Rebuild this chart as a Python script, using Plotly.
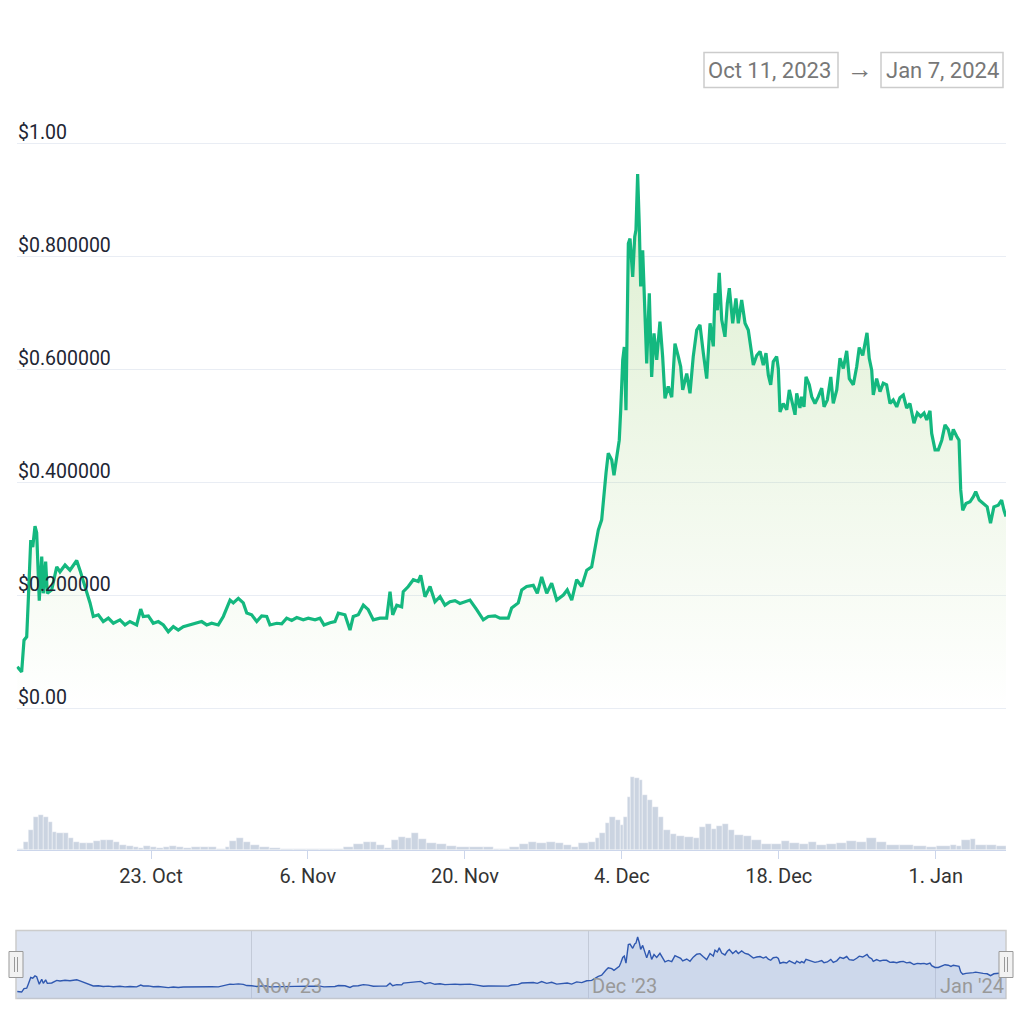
import pandas as pd
import plotly.graph_objects as go

# ---------------- data ----------------
START = pd.Timestamp("2023-10-11 00:00")

price_days = [0.07, 0.46, 0.67, 0.91, 1.05, 1.27, 1.45, 1.65, 1.80, 2.03, 2.25, 2.39, 2.60, 2.75, 3.14, 3.59, 3.88, 4.33, 4.77, 5.37,
              5.66, 6.11, 6.56, 6.85, 7.30, 7.74, 8.19, 8.64, 9.23, 9.68, 10.12, 10.72, 11.08, 11.31, 11.76, 12.20, 12.65, 13.10, 13.54, 13.99,
              14.43, 14.88, 15.48, 16.08, 16.52, 16.97, 17.41, 18.00, 18.45, 19.05, 19.34, 19.79, 20.23, 20.54, 20.98, 21.43, 21.87, 22.32, 22.61, 23.21,
              23.66, 24.10, 24.55, 25.00, 25.58, 26.03, 26.63, 27.07, 27.43, 27.97, 28.41, 28.71, 29.30, 29.75, 30.04, 30.49, 30.94, 31.38, 31.83, 32.43,
              33.02, 33.32, 33.56, 33.92, 34.36, 34.50, 34.95, 35.40, 35.84, 36.06, 36.44, 36.89, 37.33, 37.78, 38.22, 38.67, 39.12, 39.56, 40.01, 40.45,
              41.05, 41.64, 42.09, 42.69, 43.13, 43.87, 44.17, 44.76, 45.07, 45.51, 46.10, 46.46, 46.85, 47.30, 47.74, 48.19, 48.78, 49.13, 49.53, 49.97,
              50.42, 50.87, 51.31, 51.61, 51.90, 52.20, 52.35, 52.59, 52.79, 53.10, 53.30, 53.54, 53.77, 53.90, 54.08, 54.22, 54.37, 54.58, 54.73, 54.97,
              55.15, 55.26, 55.41, 55.56, 55.68, 55.86, 56.07, 56.22, 56.45, 56.66, 56.87, 57.11, 57.40, 57.64, 57.85, 58.14, 58.45, 58.74, 59.04, 59.25,
              59.43, 59.79, 60.08, 60.37, 60.68, 60.97, 61.27, 61.57, 61.87, 62.16, 62.31, 62.52, 62.69, 62.91, 63.20, 63.41, 63.59, 63.89, 64.18, 64.39,
              64.69, 64.99, 65.28, 65.43, 65.73, 66.03, 66.33, 66.62, 66.86, 67.07, 67.28, 67.51, 67.81, 67.96, 68.11, 68.40, 68.71, 68.94, 69.15, 69.45,
              69.60, 69.89, 70.04, 70.25, 70.43, 70.72, 70.94, 71.23, 71.53, 71.83, 72.04, 72.33, 72.64, 72.86, 73.17, 73.46, 73.76, 74.06, 74.29, 74.65,
              74.95, 75.18, 75.49, 75.69, 75.87, 76.07, 76.29, 76.43, 76.73, 77.03, 77.32, 77.62, 77.92, 78.21, 78.52, 78.81, 79.11, 79.41, 79.70, 80.06,
              80.36, 80.66, 80.96, 81.20, 81.49, 81.64, 81.94, 82.23, 82.54, 82.83, 83.12, 83.36, 83.57, 83.87, 84.08, 84.23, 84.41, 84.70, 85.06, 85.36,
              85.57, 85.88, 86.23, 86.59, 86.89, 87.19, 87.58, 87.88, 88.09, 88.27]

price_usd = [0.073, 0.064, 0.120, 0.126, 0.190, 0.297, 0.285, 0.322, 0.310, 0.190, 0.268, 0.203, 0.259, 0.203, 0.209, 0.250, 0.241, 0.253, 0.244, 0.261,
             0.244, 0.215, 0.186, 0.162, 0.165, 0.153, 0.159, 0.150, 0.156, 0.147, 0.153, 0.147, 0.175, 0.162, 0.163, 0.150, 0.153, 0.147, 0.135, 0.144,
             0.138, 0.144, 0.147, 0.150, 0.153, 0.147, 0.150, 0.147, 0.162, 0.191, 0.186, 0.194, 0.186, 0.168, 0.165, 0.153, 0.163, 0.162, 0.147, 0.150,
             0.149, 0.159, 0.155, 0.160, 0.156, 0.159, 0.156, 0.159, 0.147, 0.151, 0.153, 0.168, 0.165, 0.138, 0.162, 0.165, 0.182, 0.174, 0.156, 0.159,
             0.159, 0.206, 0.165, 0.182, 0.179, 0.206, 0.215, 0.227, 0.224, 0.235, 0.197, 0.215, 0.188, 0.197, 0.182, 0.188, 0.190, 0.185, 0.188, 0.191,
             0.174, 0.156, 0.162, 0.163, 0.159, 0.159, 0.177, 0.186, 0.209, 0.215, 0.217, 0.203, 0.232, 0.203, 0.221, 0.191, 0.200, 0.209, 0.191, 0.227,
             0.215, 0.244, 0.250, 0.283, 0.315, 0.333, 0.372, 0.416, 0.451, 0.439, 0.412, 0.445, 0.474, 0.527, 0.616, 0.639, 0.527, 0.822, 0.831, 0.763,
             0.834, 0.846, 0.945, 0.852, 0.746, 0.810, 0.687, 0.610, 0.734, 0.586, 0.663, 0.616, 0.684, 0.622, 0.548, 0.569, 0.550, 0.645, 0.622, 0.604,
             0.563, 0.592, 0.557, 0.622, 0.669, 0.678, 0.628, 0.583, 0.681, 0.640, 0.734, 0.704, 0.770, 0.687, 0.657, 0.716, 0.743, 0.681, 0.725, 0.681,
             0.722, 0.681, 0.669, 0.645, 0.607, 0.624, 0.631, 0.607, 0.628, 0.589, 0.572, 0.613, 0.622, 0.600, 0.524, 0.539, 0.528, 0.563, 0.547, 0.519,
             0.557, 0.531, 0.551, 0.533, 0.586, 0.572, 0.551, 0.539, 0.551, 0.566, 0.533, 0.545, 0.586, 0.539, 0.563, 0.619, 0.601, 0.632, 0.583, 0.572,
             0.604, 0.638, 0.624, 0.648, 0.664, 0.619, 0.598, 0.554, 0.583, 0.560, 0.575, 0.572, 0.539, 0.545, 0.533, 0.549, 0.554, 0.531, 0.539, 0.504,
             0.522, 0.516, 0.522, 0.510, 0.526, 0.486, 0.457, 0.457, 0.474, 0.501, 0.493, 0.474, 0.493, 0.481, 0.474, 0.386, 0.350, 0.362, 0.365, 0.374,
             0.383, 0.368, 0.362, 0.356, 0.327, 0.356, 0.359, 0.368, 0.350, 0.339]

volume_days = [0.07, 0.61, 1.05, 1.50, 1.94, 2.39, 2.84, 3.23, 3.59, 4.18, 4.62, 5.07, 5.66, 6.26, 6.85, 7.45, 8.04, 8.64, 9.23, 9.83,
               10.42, 10.86, 11.31, 11.91, 12.50, 13.10, 13.69, 14.28, 14.88, 15.63, 16.37, 17.11, 17.85, 18.60, 19.04, 19.64, 20.23, 20.83, 21.72, 22.61,
               23.51, 24.70, 25.89, 27.07, 28.26, 29.16, 30.05, 30.94, 31.54, 32.13, 32.87, 33.47, 34.06, 34.66, 35.25, 35.84, 36.59, 37.49, 38.38, 39.27,
               40.45, 41.64, 42.54, 43.13, 44.02, 44.91, 45.66, 46.40, 47.30, 48.04, 48.78, 49.53, 50.12, 51.01, 51.61, 52.05, 52.50, 52.94, 53.39, 53.84,
               54.19, 54.48, 54.79, 55.17, 55.56, 55.86, 56.27, 56.75, 57.25, 57.70, 58.30, 58.89, 59.63, 60.38, 60.97, 61.42, 62.01, 62.46, 62.99, 63.50,
               64.09, 64.84, 65.58, 66.47, 67.37, 68.26, 69.00, 69.89, 70.64, 71.38, 72.27, 73.17, 74.06, 74.95, 75.84, 76.73, 77.62, 78.81, 80.00, 81.20,
               82.09, 83.28, 83.87, 84.32, 85.06, 85.51, 86.55, 87.44, 88.27]

volume_musd = [0.7, 8.0, 20.0, 33.0, 35.0, 33.0, 28.0, 18.0, 17.0, 17.0, 12.0, 8.0, 7.0, 7.0, 9.0, 10.0, 10.0, 8.0, 5.0, 4.3,
               2.7, 1.7, 4.3, 3.3, 2.3, 2.7, 4.0, 3.3, 2.0, 2.7, 3.3, 2.7, 1.0, 3.3, 9.3, 11.7, 8.3, 5.0, 3.3, 2.3,
               1.3, 1.0, 1.0, 1.0, 1.3, 2.7, 6.0, 8.3, 8.3, 5.0, 1.7, 10.0, 13.3, 11.7, 16.7, 10.7, 7.3, 6.0, 4.0, 2.7,
               2.7, 2.7, 1.3, 1.0, 2.7, 6.0, 8.3, 7.3, 8.3, 6.7, 5.0, 2.7, 7.3, 8.3, 11.7, 16.7, 26.7, 32.7, 30.0, 25.0,
               33.3, 53.3, 72.7, 71.7, 70.0, 55.0, 50.0, 43.3, 33.3, 20.0, 16.0, 14.0, 13.3, 11.7, 23.3, 25.7, 20.7, 24.0, 26.0, 20.0,
               15.0, 14.0, 10.0, 6.0, 6.0, 9.3, 6.7, 6.0, 8.3, 5.0, 6.0, 7.3, 9.0, 8.3, 11.7, 8.3, 5.0, 4.7, 4.0, 2.7,
               4.3, 5.0, 4.0, 10.0, 10.7, 5.0, 4.7, 4.3, 4.0]

x_tick_dates = ["2023-10-23", "2023-11-06", "2023-11-20", "2023-12-04", "2023-12-18", "2024-01-01"]
x_tick_text = ["23. Oct", "6. Nov", "20. Nov", "4. Dec", "18. Dec", "1. Jan"]

y_tick_vals = [0.0, 0.2, 0.4, 0.6, 0.8, 1.0]
y_tick_text = ["$0.00", "$0.200000", "$0.400000", "$0.600000", "$0.800000", "$1.00"]

nav_tick_dates = ["2023-11-01", "2023-12-01", "2024-01-01"]
nav_tick_text = ["Nov '23", "Dec '23", "Jan '24"]

range_from_text = "Oct 11, 2023"
range_to_text = "Jan 7, 2024"

# ---------------- helpers ----------------
OFF = 8          # page body margin
W = H = 1016


def px(v):
    return (v - OFF) / W


def py(v):
    return 1 - (v - OFF) / H


price_time = [START + pd.Timedelta(days=d) for d in price_days]
# bar widths follow the spacing between consecutive volume samples
vol_width_ms = []
for i in range(len(volume_days)):
    if i + 1 < len(volume_days):
        gap = volume_days[i + 1] - volume_days[i]
    else:
        gap = volume_days[i] - volume_days[i - 1]
    vol_width_ms.append(gap * 86400000)
volume_center = [START + pd.Timedelta(days=d) + pd.Timedelta(milliseconds=w / 2)
                 for d, w in zip(volume_days, vol_width_ms)]
x_range = [START, START + pd.Timedelta(days=88.27)]

LINE = "#14b87f"
FONT = "Roboto"

fig = go.Figure()

# main price area
fig.add_trace(go.Scatter(
    x=price_time, y=price_usd, mode="lines",
    line=dict(color=LINE, width=3.2),
    fill="tozeroy",
    fillgradient=dict(type="vertical",
                      colorscale=[[0, "rgba(150,205,110,0.0)"], [1, "rgba(150,205,110,0.33)"]],
                      start=0, stop=0.95),
    xaxis="x", yaxis="y", hoverinfo="skip", showlegend=False))

# volume bars
fig.add_trace(go.Bar(
    x=volume_center, y=volume_musd, width=vol_width_ms,
    marker=dict(color="#cbd4e1", line=dict(color="rgba(255,255,255,0.8)", width=0.5)),
    xaxis="x2", yaxis="y2", hoverinfo="skip", showlegend=False))

# navigator: baseline + series
nav_base = [-0.05 for _ in price_time]
fig.add_trace(go.Scatter(x=price_time, y=nav_base, mode="lines", line=dict(width=0),
                         xaxis="x3", yaxis="y3", hoverinfo="skip", showlegend=False))
fig.add_trace(go.Scatter(x=price_time, y=price_usd, mode="lines",
                         line=dict(color="#2f58b0", width=1.4),
                         fill="tonexty", fillcolor="rgba(160,180,215,0.25)",
                         xaxis="x3", yaxis="y3", hoverinfo="skip", showlegend=False))

x_dom = [px(16.5), px(1006)]

fig.update_layout(
    width=W, height=H,
    margin=dict(l=0, r=0, t=0, b=0),
    paper_bgcolor="white", plot_bgcolor="rgba(0,0,0,0)",
    font=dict(family=FONT, size=16, color="#333333"),
    bargap=0,
    xaxis=dict(domain=x_dom, range=x_range, type="date", showgrid=False, showticklabels=False,
               zeroline=False, showline=False, anchor="y"),
    yaxis=dict(domain=[py(712), py(139)], range=[-4 / 565, 1 + 4 / 565], tickvals=y_tick_vals,
               showticklabels=False, showgrid=True, gridcolor="#e9edf4", gridwidth=1,
               zeroline=False, showline=False, anchor="x"),
    xaxis2=dict(domain=x_dom, range=x_range, type="date", tickvals=x_tick_dates, ticktext=x_tick_text,
                ticks="outside", ticklen=8, tickcolor="#ccd6eb", tickwidth=1,
                showline=True, linecolor="#ccd6eb", linewidth=1, showgrid=False, zeroline=False,
                tickfont=dict(family=FONT, size=20, color="#333333"), anchor="y2"),
    yaxis2=dict(domain=[py(850), py(770)], range=[0, 80], showticklabels=False, showgrid=False,
                zeroline=False, showline=False, anchor="x2"),
    xaxis3=dict(domain=x_dom, range=x_range, type="date", tickvals=nav_tick_dates, showticklabels=False,
                showgrid=True, gridcolor="#c3cad8", gridwidth=1, zeroline=False, showline=False,
                ticks="", anchor="y3"),
    yaxis3=dict(domain=[py(999), py(931)], range=[-0.047, 1.04], showticklabels=False, showgrid=False,
                zeroline=False, showline=False, anchor="x3"),
)

shapes = []
# navigator background mask
shapes.append(dict(type="rect", xref="paper", yref="paper", x0=px(16), x1=px(1006), y0=py(998.5), y1=py(930.5),
                   fillcolor="rgba(102,133,194,0.22)", line=dict(color="#cccccc", width=1.5), layer="below"))
# navigator handles
for hx in (16, 1006):
    shapes.append(dict(type="rect", xref="paper", yref="paper", x0=px(hx - 7), x1=px(hx + 7),
                       y0=py(977.5), y1=py(951.5), fillcolor="#f2f2f2", line=dict(color="#999999", width=1)))
    for dx in (-1.5, 1.5):
        shapes.append(dict(type="line", xref="paper", yref="paper", x0=px(hx + dx), x1=px(hx + dx),
                           y0=py(972), y1=py(957), line=dict(color="#999999", width=1)))
# date range boxes
shapes.append(dict(type="rect", xref="paper", yref="paper", x0=px(704), x1=px(838), y0=py(87.5), y1=py(52.5),
                   fillcolor="white", line=dict(color="#cccccc", width=1.5)))
shapes.append(dict(type="rect", xref="paper", yref="paper", x0=px(881), x1=px(1003), y0=py(87.5), y1=py(52.5),
                   fillcolor="white", line=dict(color="#cccccc", width=1.5)))
fig.update_layout(shapes=shapes)

annotations = []
for v, t in zip(y_tick_vals, y_tick_text):
    annotations.append(dict(x=px(16), xref="paper", y=v, yref="y", text=t, showarrow=False,
                            xanchor="left", yanchor="bottom", yshift=-3,
                            font=dict(family=FONT, size=19.5, color="#1e2533")))
for d, t in zip(nav_tick_dates, nav_tick_text):
    annotations.append(dict(x=d, xref="x3", y=py(986), yref="paper", text=t, showarrow=False,
                            xanchor="left", yanchor="middle", xshift=2,
                            font=dict(family=FONT, size=20, color="#999999")))
annotations.append(dict(x=px(769), y=py(70), xref="paper", yref="paper", text=range_from_text, showarrow=False,
                        xanchor="center", yanchor="middle", font=dict(family=FONT, size=22, color="#777777")))
annotations.append(dict(x=px(860), y=py(69), xref="paper", yref="paper", text="→", showarrow=False,
                        xanchor="center", yanchor="middle", font=dict(family=FONT, size=26, color="#777777")))
annotations.append(dict(x=px(942), y=py(70), xref="paper", yref="paper", text=range_to_text, showarrow=False,
                        xanchor="center", yanchor="middle", font=dict(family=FONT, size=22, color="#777777")))
fig.update_layout(annotations=annotations)

fig.write_html("out.html")
